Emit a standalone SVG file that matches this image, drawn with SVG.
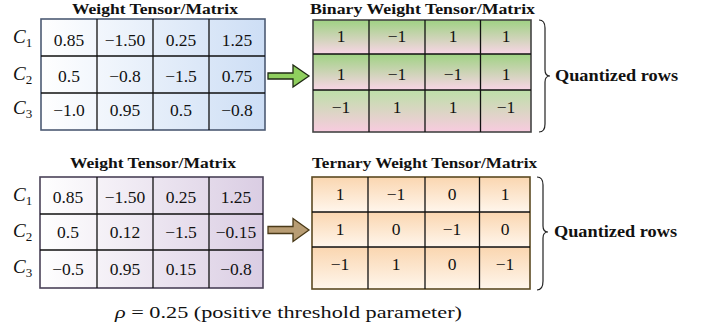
<svg xmlns="http://www.w3.org/2000/svg" width="707" height="333" viewBox="0 0 707 333">
  <style>
    .title { font-family: "Liberation Serif", "DejaVu Serif", serif; font-weight: bold; font-size: 15px; fill: #111; }
    .num { font-family: "Liberation Serif", "DejaVu Serif", serif; font-size: 17.5px; text-anchor: middle; fill: #111; }
    .lbl { font-family: "Liberation Serif", "DejaVu Serif", serif; font-size: 19px; font-style: italic; fill: #111; }
    .sub { font-size: 13px; font-style: normal; }
    .side { font-family: "Liberation Serif", "DejaVu Serif", serif; font-weight: bold; font-size: 16.5px; fill: #111; }
    .grid { fill: none; stroke: #111; stroke-width: 1.3; }
    .brace { fill: none; stroke: #222; stroke-width: 1.2; }
    .caption { font-family: "Liberation Serif", "DejaVu Serif", serif; font-size: 17.5px; fill: #111; }
  </style>
  <defs>
    <linearGradient id="blueFill" x1="0" y1="0" x2="1" y2="0">
      <stop offset="0" stop-color="#ffffff"/>
      <stop offset="1" stop-color="#cddef5"/>
    </linearGradient>
    <linearGradient id="purpleFill" x1="0" y1="0" x2="1" y2="0">
      <stop offset="0" stop-color="#ffffff"/>
      <stop offset="1" stop-color="#dacde3"/>
    </linearGradient>
    <linearGradient id="greenPink" x1="0" y1="0" x2="0" y2="1">
      <stop offset="0" stop-color="#9fd283"/>
      <stop offset="1" stop-color="#f8d5e6"/>
    </linearGradient>
    <linearGradient id="greenPinkLow" x1="0" y1="0" x2="0" y2="1">
      <stop offset="0" stop-color="#bde0a8"/>
      <stop offset="1" stop-color="#f8cbdf"/>
    </linearGradient>
    <linearGradient id="peach" x1="0" y1="0" x2="0" y2="1">
      <stop offset="0" stop-color="#fad6b0"/>
      <stop offset="1" stop-color="#fff6ec"/>
    </linearGradient>
  </defs>

  <!-- Full-precision weight matrix (binary case) -->
  <g id="weights-binary">
    <text class="title" x="72" y="14" textLength="166" lengthAdjust="spacingAndGlyphs">Weight Tensor/Matrix</text>
    <rect x="41" y="19" width="224" height="111" fill="url(#blueFill)" stroke="#4d5b74" stroke-width="1.6"/>
    <path class="grid" d="M97 19V130M153 19V130M209 19V130M41 56H265M41 93H265"/>
    <text class="lbl" x="13" y="43">C<tspan class="sub" dy="4">1</tspan></text>
    <text class="lbl" x="13" y="80">C<tspan class="sub" dy="4">2</tspan></text>
    <text class="lbl" x="13" y="114">C<tspan class="sub" dy="4">3</tspan></text>
    <text class="num" x="69" y="46">0.85</text>
    <text class="num" x="125" y="46">−1.50</text>
    <text class="num" x="181" y="46">0.25</text>
    <text class="num" x="237" y="46">1.25</text>
    <text class="num" x="69" y="82">0.5</text>
    <text class="num" x="125" y="82">−0.8</text>
    <text class="num" x="181" y="82">−1.5</text>
    <text class="num" x="237" y="82">0.75</text>
    <text class="num" x="69" y="116">−1.0</text>
    <text class="num" x="125" y="116">0.95</text>
    <text class="num" x="181" y="116">0.5</text>
    <text class="num" x="237" y="116">−0.8</text>
  </g>

  <!-- Binarized matrix -->
  <g id="binary-matrix">
    <text class="title" x="310" y="14" textLength="225" lengthAdjust="spacingAndGlyphs">Binary Weight Tensor/Matrix</text>
    <rect x="313" y="20" width="218" height="34" fill="url(#greenPink)"/>
    <rect x="313" y="54" width="218" height="36" fill="url(#greenPink)"/>
    <rect x="313" y="90" width="218" height="42" fill="url(#greenPinkLow)"/>
    <rect x="313" y="20" width="218" height="112" fill="none" stroke="#444" stroke-width="1.6"/>
    <path class="grid" d="M369 20V132M425 20V132M480.5 20V132M313 54H531M313 90H531"/>
    <text class="num" x="341" y="42">1</text>
    <text class="num" x="397" y="42">−1</text>
    <text class="num" x="453" y="42">1</text>
    <text class="num" x="506" y="42">1</text>
    <text class="num" x="341" y="80">1</text>
    <text class="num" x="397" y="80">−1</text>
    <text class="num" x="453" y="80">−1</text>
    <text class="num" x="506" y="80">1</text>
    <text class="num" x="341" y="113">−1</text>
    <text class="num" x="397" y="113">1</text>
    <text class="num" x="453" y="113">1</text>
    <text class="num" x="506" y="113">−1</text>
  </g>

  <!-- Full-precision weight matrix (ternary case) -->
  <g id="weights-ternary">
    <text class="title" x="70" y="168" textLength="166" lengthAdjust="spacingAndGlyphs">Weight Tensor/Matrix</text>
    <rect x="40" y="177" width="223" height="111" fill="url(#purpleFill)" stroke="#4a4258" stroke-width="1.6"/>
    <path class="grid" d="M97 177V288M153 177V288M209 177V288M40 214H263M40 250H263"/>
    <text class="lbl" x="13" y="201">C<tspan class="sub" dy="4">1</tspan></text>
    <text class="lbl" x="13" y="237">C<tspan class="sub" dy="4">2</tspan></text>
    <text class="lbl" x="13" y="273">C<tspan class="sub" dy="4">3</tspan></text>
    <text class="num" x="68" y="203">0.85</text>
    <text class="num" x="125" y="203">−1.50</text>
    <text class="num" x="181" y="203">0.25</text>
    <text class="num" x="236" y="203">1.25</text>
    <text class="num" x="68" y="238">0.5</text>
    <text class="num" x="125" y="238">0.12</text>
    <text class="num" x="181" y="238">−1.5</text>
    <text class="num" x="236" y="238">−0.15</text>
    <text class="num" x="68" y="275">−0.5</text>
    <text class="num" x="125" y="275">0.95</text>
    <text class="num" x="181" y="275">0.15</text>
    <text class="num" x="236" y="275">−0.8</text>
  </g>

  <!-- Ternarized matrix -->
  <g id="ternary-matrix">
    <text class="title" x="312" y="168" textLength="225" lengthAdjust="spacingAndGlyphs">Ternary Weight Tensor/Matrix</text>
    <rect x="312" y="177" width="218" height="35" fill="url(#peach)"/>
    <rect x="312" y="212" width="218" height="35" fill="url(#peach)"/>
    <rect x="312" y="247" width="218" height="42" fill="url(#peach)"/>
    <rect x="312" y="177" width="218" height="112" fill="none" stroke="#5c4a22" stroke-width="1.6"/>
    <path class="grid" d="M368 177V289M425 177V289M479.5 177V289M312 212H530M312 247H530"/>
    <text class="num" x="340" y="200">1</text>
    <text class="num" x="396" y="200">−1</text>
    <text class="num" x="452" y="200">0</text>
    <text class="num" x="505" y="200">1</text>
    <text class="num" x="340" y="235">1</text>
    <text class="num" x="396" y="235">0</text>
    <text class="num" x="452" y="235">−1</text>
    <text class="num" x="505" y="235">0</text>
    <text class="num" x="340" y="270">−1</text>
    <text class="num" x="396" y="270">1</text>
    <text class="num" x="452" y="270">0</text>
    <text class="num" x="505" y="270">−1</text>
  </g>

  <!-- Side labels with braces -->
  <g id="binary-label">
    <path class="brace" d="M539 20Q545 20 545 28V70Q545 76 550 76Q545 76 545 82V124Q545 132 539 132"/>
    <text class="side" x="555" y="81" textLength="123" lengthAdjust="spacingAndGlyphs">Quantized rows</text>
  </g>
  <g id="ternary-label">
    <path class="brace" d="M537 177Q543 177 543 185V226Q543 232 548 232Q543 232 543 238V281Q543 290 537 290"/>
    <text class="side" x="554" y="237" textLength="123" lengthAdjust="spacingAndGlyphs">Quantized rows</text>
  </g>

  <g id="caption">
    <text class="caption" x="115" y="318" textLength="347" lengthAdjust="spacingAndGlyphs"><tspan font-style="italic">ρ</tspan> = 0.25 (positive threshold parameter)</text>
  </g>

  <!-- Connectors -->
  <g id="connectors">
    <path d="M268 73H293V65L309 76L293 87V79H268Z" fill="#8fcf5e" stroke="#1f2a14" stroke-width="1.3" stroke-linejoin="miter"/>
    <path d="M268 226.5H293V218.5L309 230L293 241.5V233.5H268Z" fill="#b89d74" stroke="#4a3a18" stroke-width="1.3" stroke-linejoin="miter"/>
  </g>
</svg>
